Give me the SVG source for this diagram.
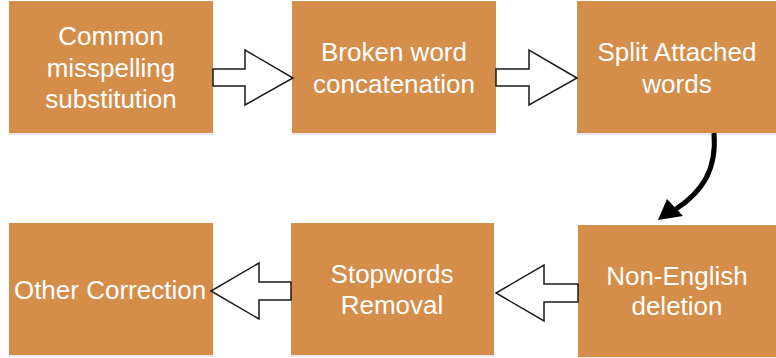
<svg xmlns="http://www.w3.org/2000/svg" width="776" height="358" viewBox="0 0 776 358">
<defs>
<style>
.box{fill:#D58D4A;}
.sh{fill:#000;opacity:0.08;}
.t{font-family:"Liberation Sans",Arial,sans-serif;font-size:26px;fill:#FFFFFF;text-anchor:middle;}
.ar{fill:#FFFFFF;stroke:#1a1a1a;stroke-width:1.5;stroke-linejoin:miter;}
</style>
<marker id="head" markerWidth="6" markerHeight="6" refX="4" refY="3" orient="auto" markerUnits="strokeWidth">
<path d="M0,0 L5,3 L0,6 z" fill="#000"/>
</marker>
</defs>
<rect width="776" height="358" fill="#FFFFFF"/>
<g id="n1">
<rect class="sh" x="9" y="2" width="204" height="133"/>
<rect class="box" x="9" y="1" width="204" height="132"/>
<text class="t" x="111" y="45">Common</text>
<text class="t" x="111" y="77">misspelling</text>
<text class="t" x="111" y="108">substitution</text>
</g>
<g id="n2">
<rect class="sh" x="292" y="2" width="204" height="133"/>
<rect class="box" x="292" y="1" width="204" height="132"/>
<text class="t" x="394" y="61">Broken word</text>
<text class="t" x="394" y="93">concatenation</text>
</g>
<g id="n3">
<rect class="sh" x="577" y="2" width="199" height="133"/>
<rect class="box" x="577" y="1" width="199" height="132"/>
<text class="t" x="677" y="61">Split Attached</text>
<text class="t" x="677" y="93">words</text>
</g>
<g id="n4">
<rect class="sh" x="9" y="224" width="204" height="133"/>
<rect class="box" x="9" y="223" width="204" height="132"/>
<text class="t" x="110" y="299">Other Correction</text>
</g>
<g id="n5">
<rect class="sh" x="291" y="224" width="203" height="133"/>
<rect class="box" x="291" y="223" width="203" height="132"/>
<text class="t" x="392" y="283">Stopwords</text>
<text class="t" x="392" y="314">Removal</text>
</g>
<g id="n6">
<rect class="sh" x="578" y="226" width="198" height="132"/>
<rect class="box" x="578" y="225" width="198" height="132"/>
<text class="t" x="677" y="285">Non-English</text>
<text class="t" x="677" y="315">deletion</text>
</g>
<g id="connectors">
<path class="ar" d="M213,69 L245,69 L245,50 L293,78 L245,105 L245,86 L213,86 Z"/>
<path class="ar" d="M496,69 L529,69 L529,50 L577,78 L529,105 L529,86 L496,86 Z"/>
<path class="ar" d="M291,282 L259,282 L259,263 L211,291 L259,319 L259,300 L291,300 Z"/>
<path class="ar" d="M578,284 L544,284 L544,265 L496,293 L544,321 L544,302 L578,302 Z"/>
<path d="M714,133 C717,170 702,192 676,209" fill="none" stroke="#000" stroke-width="5"/>
<path d="M658,220 L667,199 L683,216 Z" fill="#000"/>
</g>
</svg>
